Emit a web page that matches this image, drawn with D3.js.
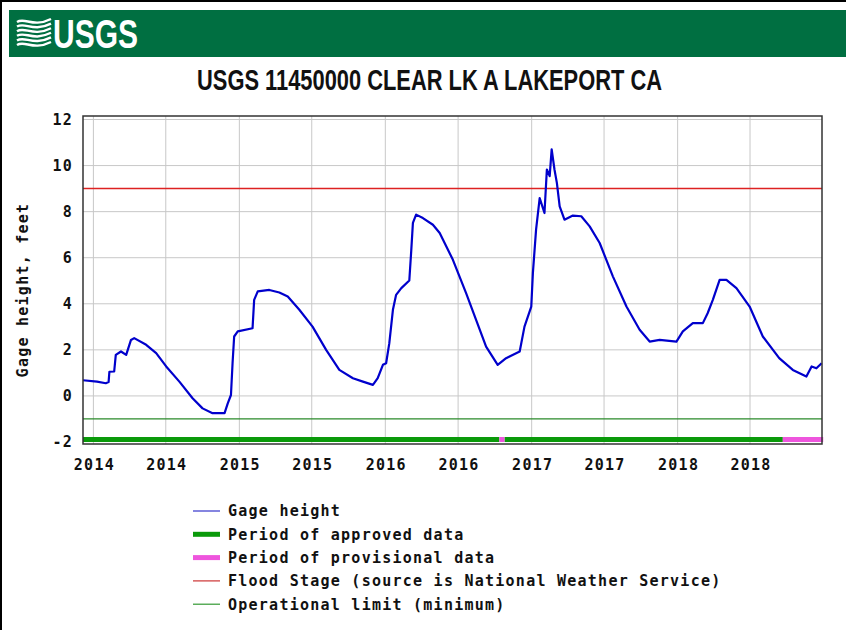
<!DOCTYPE html>
<html>
<head>
<meta charset="utf-8">
<script src="https://cdn.jsdelivr.net/npm/d3@7"></script>
<style>
  body { margin: 0; background: #fff; }
  .mono { font-family: "DejaVu Sans Mono", "Liberation Mono", monospace; font-weight: bold; font-size: 15px; letter-spacing: 1.25px; fill: #111; }
</style>
</head>
<body>
<svg id="chart" width="846" height="630"></svg>
<script>
// gage height readings (feet)
const gageDates = [
  '2013-12-06', '2014-01-10', '2014-02-01', '2014-02-08', '2014-02-10', '2014-02-22', '2014-02-26',
  '2014-03-11', '2014-03-24', '2014-04-05', '2014-04-13', '2014-05-13', '2014-06-07', '2014-07-02',
  '2014-08-04', '2014-09-06', '2014-10-01', '2014-10-26', '2014-11-25', '2014-12-03', '2014-12-11',
  '2014-12-15', '2014-12-19', '2014-12-28', '2015-02-03', '2015-02-07', '2015-02-16', '2015-03-17',
  '2015-04-11', '2015-05-02', '2015-05-31', '2015-07-03', '2015-08-06', '2015-09-08', '2015-10-12',
  '2015-11-06', '2015-12-01', '2015-12-13', '2015-12-26', '2016-01-03', '2016-01-11', '2016-01-20',
  '2016-01-28', '2016-02-10', '2016-03-01', '2016-03-06', '2016-03-10', '2016-03-18', '2016-04-04',
  '2016-04-29', '2016-05-16', '2016-06-18', '2016-07-21', '2016-08-15', '2016-09-09', '2016-10-08',
  '2016-10-29', '2016-12-02', '2016-12-14', '2016-12-31', '2017-01-04', '2017-01-12', '2017-01-21',
  '2017-02-02', '2017-02-08', '2017-02-15', '2017-02-20', '2017-02-27', '2017-03-05', '2017-03-12',
  '2017-03-24', '2017-04-14', '2017-05-05', '2017-05-26', '2017-06-20', '2017-07-23', '2017-08-26',
  '2017-09-28', '2017-10-23', '2017-11-17', '2017-12-29', '2018-01-14', '2018-02-08', '2018-03-05',
  '2018-03-17', '2018-03-30', '2018-04-16', '2018-05-03', '2018-05-28', '2018-06-30', '2018-08-02',
  '2018-09-12', '2018-10-16', '2018-11-19', '2018-12-02', '2018-12-14', '2018-12-27'
];
const gageValues = [
  0.68, 0.62, 0.55, 0.60, 1.05, 1.06, 1.78,
  1.93, 1.78, 2.43, 2.51, 2.22, 1.86, 1.28,
  0.62, -0.10, -0.54, -0.75, -0.75, -0.32, 0.04,
  1.42, 2.58, 2.80, 2.94, 4.17, 4.54, 4.60,
  4.49, 4.32, 3.74, 3.01, 2.00, 1.13, 0.77,
  0.62, 0.48, 0.77, 1.35, 1.42, 2.29, 3.74,
  4.39, 4.68, 5.01, 6.35, 7.51, 7.87, 7.72,
  7.43, 7.07, 5.91, 4.46, 3.30, 2.14, 1.35,
  1.64, 1.93, 3.01, 3.88, 5.33, 7.22, 8.59,
  7.94, 9.83, 9.54, 10.70, 9.83, 9.25, 8.23,
  7.65, 7.83, 7.80, 7.36, 6.64, 5.19, 3.88,
  2.87, 2.36, 2.43, 2.36, 2.80, 3.16, 3.16,
  3.59, 4.17, 5.04, 5.04, 4.68, 3.88, 2.58,
  1.64, 1.13, 0.84, 1.28, 1.20, 1.42
];

const approvedPeriods = [['2013-12-06', '2016-10-12'], ['2016-10-25', '2018-09-21']];
const provisionalPeriods = [['2016-10-12', '2016-10-25'], ['2018-09-21', '2018-12-31']];
const floodStage = 9.0;
const operationalLimit = -1.0;
const yTicks = [-2, 0, 2, 4, 6, 8, 10, 12];

const legendItems = [
  { label: 'Gage height', color: '#3333cc', width: 1.2 },
  { label: 'Period of approved data', color: '#0a9a0a', width: 5 },
  { label: 'Period of provisional data', color: '#ee55dd', width: 5 },
  { label: 'Flood Stage (source is National Weather Service)', color: '#cc3333', width: 1.2 },
  { label: 'Operational limit (minimum)', color: '#339933', width: 1.2 }
];

const parse = d3.timeParse('%Y-%m-%d');
const series = gageDates.map((d, i) => ({ date: parse(d), value: gageValues[i] }));

const svg = d3.select('#chart');
const plotLeft = 83, plotRight = 822, plotTop = 116, plotBottom = 444;

// page border + USGS banner
svg.append('line').attr('x1', 1).attr('x2', 1).attr('y1', 0).attr('y2', 630).attr('stroke', '#000').attr('stroke-width', 2);
svg.append('line').attr('x1', 0).attr('x2', 846).attr('y1', 1).attr('y2', 1).attr('stroke', '#000').attr('stroke-width', 2);
svg.append('rect').attr('x', 9).attr('y', 10).attr('width', 837).attr('height', 47).attr('fill', '#006f41');

const logo = svg.append('g');
for (let i = 0; i < 6; i++) {
  const y0 = 22 + i * 4.6;
  logo.append('path')
    .attr('d', `M17,${y0} C25,${y0 - 5} 33,${y0 + 6} 51,${y0 - 3}`)
    .attr('fill', 'none').attr('stroke', '#fff').attr('stroke-width', 2.4);
}
logo.append('text')
  .attr('x', 53).attr('y', 48)
  .attr('textLength', 85).attr('lengthAdjust', 'spacingAndGlyphs')
  .style('font-family', '"Liberation Sans Narrow", "Liberation Sans", Arial, sans-serif')
  .style('font-weight', 'bold').style('font-size', '41px').style('fill', '#fff')
  .text('USGS');

svg.append('text')
  .attr('x', 197).attr('y', 90)
  .attr('textLength', 465).attr('lengthAdjust', 'spacingAndGlyphs')
  .style('font-family', '"Liberation Sans Narrow", "Liberation Sans", Arial, sans-serif')
  .style('font-weight', 'bold').style('font-size', '29px').style('fill', '#111')
  .text('USGS 11450000 CLEAR LK A LAKEPORT CA');

// scales
const x = d3.scaleTime()
  .domain([parse('2013-12-06'), parse('2018-12-28')])
  .range([plotLeft, plotRight]);
const y = d3.scaleLinear()
  .domain([-2, 12])
  .range([442, 119.5]);

const xTicks = x.ticks(d3.timeMonth.every(6));

// grid
svg.append('g').selectAll('line').data(yTicks.filter(v => v > -2)).join('line')
  .attr('x1', plotLeft).attr('x2', plotRight)
  .attr('y1', d => y(d)).attr('y2', d => y(d))
  .attr('stroke', '#c8c8c8').attr('stroke-width', 1);
svg.append('g').selectAll('line').data(xTicks).join('line')
  .attr('x1', d => x(d)).attr('x2', d => x(d))
  .attr('y1', plotTop).attr('y2', plotBottom)
  .attr('stroke', '#c8c8c8').attr('stroke-width', 1);

// reference lines
svg.append('line').attr('x1', plotLeft).attr('x2', plotRight)
  .attr('y1', y(floodStage)).attr('y2', y(floodStage))
  .attr('stroke', '#dd2222').attr('stroke-width', 1.5);
svg.append('line').attr('x1', plotLeft).attr('x2', plotRight)
  .attr('y1', y(operationalLimit)).attr('y2', y(operationalLimit))
  .attr('stroke', '#2a8a2a').attr('stroke-width', 1.2);

// data-quality bars
const barY = y(-2) - 5;
svg.append('g').selectAll('rect').data(approvedPeriods).join('rect')
  .attr('x', d => x(parse(d[0]))).attr('width', d => x(parse(d[1])) - x(parse(d[0])))
  .attr('y', barY).attr('height', 5).attr('fill', '#0a9a0a');
svg.append('g').selectAll('rect').data(provisionalPeriods).join('rect')
  .attr('x', d => x(parse(d[0]))).attr('width', d => x(parse(d[1])) - x(parse(d[0])))
  .attr('y', barY).attr('height', 5).attr('fill', '#ee55dd');

// gage height line
const line = d3.line().x(d => x(d.date)).y(d => y(d.value));
svg.append('path').datum(series)
  .attr('d', line)
  .attr('fill', 'none').attr('stroke', '#0000cc').attr('stroke-width', 2.2)
  .attr('stroke-linejoin', 'round');

// frame
svg.append('rect').attr('x', plotLeft).attr('y', plotTop)
  .attr('width', plotRight - plotLeft).attr('height', plotBottom - plotTop)
  .attr('fill', 'none').attr('stroke', '#333').attr('stroke-width', 1.5);

// axes labels
svg.append('g').selectAll('text').data(yTicks).join('text')
  .attr('class', 'mono')
  .attr('x', 73).attr('y', d => y(d)).attr('dy', '0.36em')
  .attr('text-anchor', 'end')
  .text(d => d);

svg.append('g').selectAll('text').data(xTicks).join('text')
  .attr('class', 'mono')
  .attr('x', d => x(d) + 1).attr('y', 470)
  .attr('text-anchor', 'middle')
  .text(d3.timeFormat('%Y'));

svg.append('text')
  .attr('class', 'mono')
  .attr('transform', 'translate(28,290) rotate(-90)')
  .attr('text-anchor', 'middle')
  .text('Gage height, feet');

// legend
const legend = svg.append('g').selectAll('g').data(legendItems).join('g')
  .attr('transform', (d, i) => `translate(193,${511 + i * 23.3})`);
legend.append('line')
  .attr('x1', 0).attr('x2', 27).attr('y1', 0).attr('y2', 0)
  .attr('stroke', d => d.color).attr('stroke-width', d => d.width);
legend.append('text')
  .attr('class', 'mono')
  .attr('x', 35).attr('dy', '0.36em')
  .text(d => d.label);
</script>
</body>
</html>
